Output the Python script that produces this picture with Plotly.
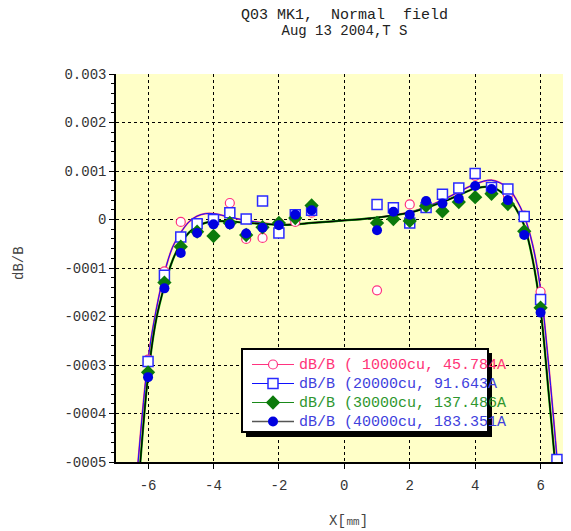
import plotly.graph_objects as go

# ---------------- data ----------------
x_pts = [-6, -5.5, -5, -4.5, -4, -3.5, -3, -2.5, -2, -1.5, -1,
         1, 1.5, 2, 2.5, 3, 3.5, 4, 4.5, 5, 5.5, 6]

y_10000 = [-2.89e-4, -1.07e-4, -0.05e-4, -0.08e-4, 0.01e-4, 0.34e-4, -0.40e-4, -0.38e-4, -0.07e-4, -0.05e-4, 0.14e-4,
           -1.46e-4, 0.23e-4, 0.31e-4, 0.36e-4, 0.50e-4, 0.63e-4, 0.90e-4, 0.65e-4, 0.50e-4, 0.08e-4, -1.49e-4]

x_pts_20000 = x_pts + [6.5]
y_20000 = [-2.93e-4, -1.15e-4, -0.36e-4, -0.09e-4, 0.00e-4, 0.14e-4, 0.01e-4, 0.38e-4, -0.28e-4, 0.10e-4, 0.19e-4,
           0.31e-4, 0.24e-4, -0.07e-4, 0.25e-4, 0.52e-4, 0.65e-4, 0.95e-4, 0.66e-4, 0.63e-4, 0.06e-4, -1.65e-4, -4.95e-4]

y_30000 = [-3.15e-4, -1.30e-4, -0.56e-4, -0.25e-4, -0.34e-4, -0.07e-4, -0.32e-4, -0.16e-4, -0.07e-4, 0.03e-4, 0.29e-4,
           -0.07e-4, 0.01e-4, -0.03e-4, 0.28e-4, 0.17e-4, 0.36e-4, 0.46e-4, 0.53e-4, 0.32e-4, -0.24e-4, -1.82e-4]

y_40000 = [-3.25e-4, -1.42e-4, -0.69e-4, -0.28e-4, -0.10e-4, -0.10e-4, -0.29e-4, -0.17e-4, -0.12e-4, 0.10e-4, 0.19e-4,
           -0.22e-4, 0.16e-4, 0.10e-4, 0.38e-4, 0.33e-4, 0.43e-4, 0.69e-4, 0.63e-4, 0.40e-4, -0.32e-4, -1.92e-4]

# fitted curves as drawn in the reference
curve_top_x = [-6.33, -6.0, -5.75, -5.5, -5.25, -5.0, -4.75, -4.5, -4.25, -4.0, -3.5, -3.0, -2.5, -2.0, -1.5, -1.0,
               0.0, 1.0, 2.0, 2.5, 3.0, 3.5, 4.0, 4.5, 5.0, 5.25, 5.5, 5.75, 6.0, 6.25, 6.55]
curve_top_y = [-5.2e-4, -2.89e-4, -1.86e-4, -1.10e-4, -0.57e-4, -0.27e-4, -0.05e-4, 0.07e-4, 0.12e-4, 0.12e-4,
               0.05e-4, -0.02e-4, -0.07e-4, -0.11e-4, -0.10e-4, -0.07e-4, -0.02e-4, 0.04e-4, 0.15e-4, 0.26e-4,
               0.40e-4, 0.57e-4, 0.73e-4, 0.81e-4, 0.65e-4, 0.42e-4, 0.07e-4, -0.50e-4, -1.44e-4, -3.02e-4, -5.3e-4]

curve_bot_x = [-6.27, -6.0, -5.75, -5.5, -5.25, -5.0, -4.75, -4.5, -4.25, -4.0, -3.5, -3.0, -2.5, -2.0, -1.5, -1.0,
               0.0, 1.0, 2.0, 2.5, 3.0, 3.5, 4.0, 4.5, 5.0, 5.25, 5.5, 5.75, 6.0, 6.25, 6.47]
curve_bot_y = [-5.3e-4, -3.23e-4, -2.06e-4, -1.37e-4, -0.84e-4, -0.49e-4, -0.27e-4, -0.14e-4, -0.07e-4, -0.04e-4,
               -0.04e-4, -0.07e-4, -0.09e-4, -0.11e-4, -0.10e-4, -0.07e-4, -0.02e-4, 0.04e-4, 0.14e-4, 0.24e-4,
               0.36e-4, 0.50e-4, 0.64e-4, 0.67e-4, 0.45e-4, 0.22e-4, -0.12e-4, -0.80e-4, -1.86e-4, -3.60e-4, -5.2e-4]

y_tickvals = [-5e-4, -4e-4, -3e-4, -2e-4, -1e-4, 0, 1e-4, 2e-4, 3e-4]
y_ticktext = ["-0005", "-0004", "-0003", "-0002", "-0001", "0", "0.001", "0.002", "0.003"]
x_tickvals = [-6, -4, -2, 0, 2, 4, 6]
x_ticktext = ["-6", "-4", "-2", "0", "2", "4", "6"]

legend_names = ["dB/B ( 10000cu, 45.784A", "dB/B (20000cu, 91.643A",
                "dB/B (30000cu, 137.486A", "dB/B (40000cu, 183.351A"]

title_lines = ["Q03 MK1,  Normal  field", "Aug 13 2004,T S"]

# ---------------- styling ----------------
MONO = "Liberation Mono, Courier New, monospace"
PINK = "#ff3380"
BLUE_SQ = "#2a2aff"
GREEN = "#0b7a0b"
BLUE_DOT = "#0000e0"
TXT_PINK = "#ff3377"
TXT_BLUE = "#4040dd"
TXT_GREEN = "#2e962e"

OFF = 8  # page body margin
W, H = 571 - OFF, 531 - OFF
L, R, T, B = 116 - OFF, 0, 74 - OFF, 69
PW, PH = W - L - R, H - T - B


def px_x(p):
    return (p - OFF - L) / PW


def px_y(p):
    return (H - B - (p - OFF)) / PH


fig = go.Figure()

# curves
fig.add_trace(go.Scatter(x=curve_top_x, y=curve_top_y, mode="lines", line=dict(color=PINK, width=1.8, shape="spline"),
                         showlegend=False, hoverinfo="skip"))
fig.add_trace(go.Scatter(x=curve_top_x, y=curve_top_y, mode="lines", line=dict(color="#1010ff", width=1.0, shape="spline"),
                         showlegend=False, hoverinfo="skip"))
fig.add_trace(go.Scatter(x=curve_bot_x, y=curve_bot_y, mode="lines", line=dict(color="#00a000", width=2.2, shape="spline"),
                         showlegend=False, hoverinfo="skip"))
fig.add_trace(go.Scatter(x=curve_bot_x, y=curve_bot_y, mode="lines", line=dict(color="#000000", width=1.2, shape="spline"),
                         showlegend=False, hoverinfo="skip"))

# data points
fig.add_trace(go.Scatter(x=x_pts, y=y_10000, mode="markers",
                         marker=dict(symbol="circle", size=9, color="white", line=dict(color=PINK, width=1.2)),
                         showlegend=False))
fig.add_trace(go.Scatter(x=x_pts_20000, y=y_20000, mode="markers",
                         marker=dict(symbol="square", size=10, color="white", line=dict(color=BLUE_SQ, width=1.5)),
                         showlegend=False))
fig.add_trace(go.Scatter(x=x_pts, y=y_30000, mode="markers",
                         marker=dict(symbol="diamond", size=11, color=GREEN, line=dict(width=0)),
                         showlegend=False))
fig.add_trace(go.Scatter(x=x_pts, y=y_40000, mode="markers",
                         marker=dict(symbol="circle", size=10, color=BLUE_DOT, line=dict(width=0)),
                         showlegend=False))

# legend entries
leg_specs = [
    (legend_names[0], TXT_PINK, dict(color=PINK, width=1.2),
     dict(symbol="circle", size=9, color="white", line=dict(color=PINK, width=1.2))),
    (legend_names[1], TXT_BLUE, dict(color="#1010ff", width=1.2),
     dict(symbol="square", size=10, color="white", line=dict(color=BLUE_SQ, width=1.5))),
    (legend_names[2], TXT_GREEN, dict(color="#1a8a1a", width=1.2),
     dict(symbol="diamond", size=11, color=GREEN, line=dict(width=0))),
    (legend_names[3], TXT_BLUE, dict(color="#555555", width=1.6),
     dict(symbol="circle", size=10, color=BLUE_DOT, line=dict(width=0))),
]
for name, tcol, ln, mk in leg_specs:
    fig.add_trace(go.Scatter(x=[None], y=[None], mode="lines+markers", line=ln, marker=mk,
                             name="<span style='color:%s;font-size:15px'>%s</span>" % (tcol, name)))

# legend box with shadow
shapes = [
    dict(type="rect", xref="paper", yref="paper", x0=px_x(246), x1=px_x(492), y0=px_y(437), y1=px_y(353),
         fillcolor="black", line=dict(width=0), layer="above"),
    dict(type="rect", xref="paper", yref="paper", x0=px_x(242), x1=px_x(488), y0=px_y(432), y1=px_y(349),
         fillcolor="white", line=dict(color="black", width=2), layer="above"),
]

title_text = ("<span style='font-size:15px'>%s</span><br><span style='font-size:14px'>%s</span>"
              % (title_lines[0], title_lines[1]))

annotations = [
    dict(text=title_text, x=px_x(344), y=px_y(23), xref="paper", yref="paper",
         showarrow=False, font=dict(family=MONO, size=12, color="#222"), xanchor="center", yanchor="middle"),
    dict(text="dB/B", x=px_x(19), y=px_y(263), xref="paper", yref="paper", textangle=-90,
         showarrow=False, font=dict(family=MONO, size=14, color="#444"), xanchor="center", yanchor="middle"),
    dict(text="X[㎜]", x=px_x(348), y=px_y(521), xref="paper", yref="paper",
         showarrow=False, font=dict(family=MONO, size=14, color="#444"), xanchor="center", yanchor="middle"),
]

fig.update_layout(
    width=W, height=H,
    margin=dict(l=L, r=R, t=T, b=B, pad=0),
    paper_bgcolor="white",
    plot_bgcolor="#ffffc8",
    font=dict(family=MONO, size=14, color="#333"),
    showlegend=True,
    legend=dict(x=px_x(247), y=px_y(350), xanchor="left", yanchor="top",
                bgcolor="rgba(0,0,0,0)", borderwidth=0, itemwidth=42,
                font=dict(family=MONO, size=12), tracegroupgap=0, itemclick=False),
    shapes=shapes,
    annotations=annotations,
    xaxis=dict(range=[-6.98, 6.93], tickvals=x_tickvals, ticktext=x_ticktext,
               showgrid=True, gridcolor="black", griddash="dot", gridwidth=1,
               zeroline=False, showline=True, linecolor="black", linewidth=1.5,
               ticks="outside", ticklen=5, tickcolor="black", ticklabelstandoff=4,
               tickfont=dict(family=MONO, size=14, color="#333")),
    yaxis=dict(range=[-5e-4, 3e-4], tickvals=y_tickvals, ticktext=y_ticktext,
               showgrid=True, gridcolor="black", griddash="dot", gridwidth=1,
               zeroline=False, showline=True, linecolor="black", linewidth=1.5,
               ticks="outside", ticklen=5, tickcolor="black",
               minor=dict(ticks="outside", ticklen=3, tickcolor="black", dtick=2e-5, showgrid=False),
               tickfont=dict(family=MONO, size=14, color="#333")),
)

fig.write_html("out.html")
